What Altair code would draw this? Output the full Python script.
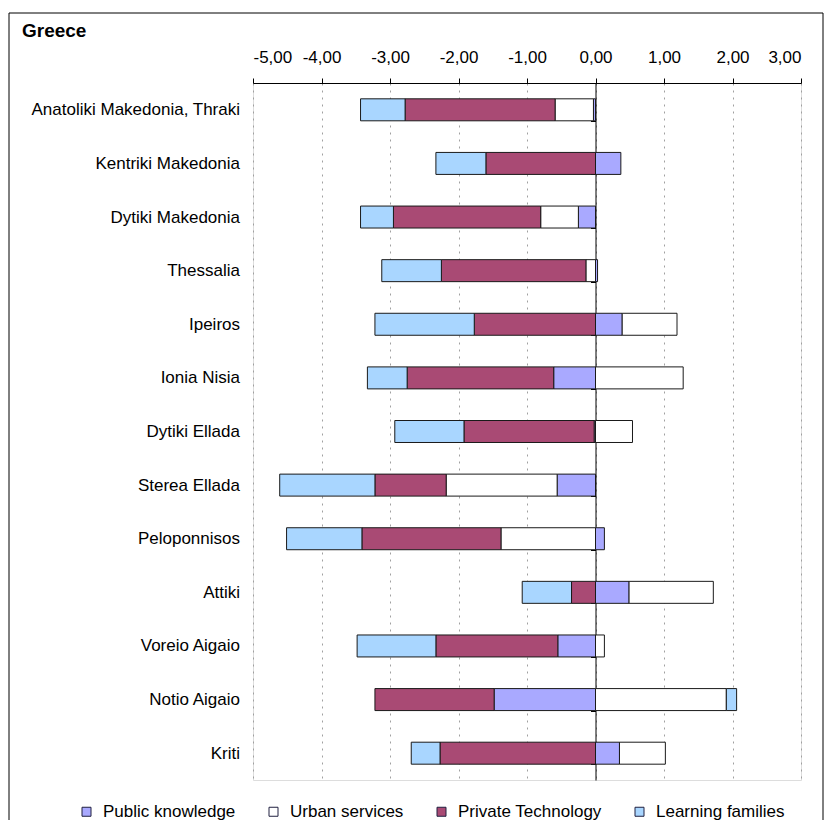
import altair as alt
import pandas as pd

# Regional scores by component, Greece (NUTS 2 regions)
regions = [
    "Anatoliki Makedonia, Thraki", "Kentriki Makedonia", "Dytiki Makedonia",
    "Thessalia", "Ipeiros", "Ionia Nisia", "Dytiki Ellada", "Sterea Ellada",
    "Peloponnisos", "Attiki", "Voreio Aigaio", "Notio Aigaio", "Kriti",
]
public_knowledge = [-0.03, 0.37, -0.25, 0.03, 0.39, -0.61, -0.02, -0.56, 0.13, 0.49, -0.55, -1.48, 0.35]
urban_services = [-0.56, 0.00, -0.55, -0.14, 0.80, 1.28, 0.54, -1.62, -1.38, 1.23, 0.13, 1.91, 0.67]
private_technology = [-2.19, -1.60, -2.15, -2.11, -1.77, -2.14, -1.90, -1.04, -2.03, -0.35, -1.78, -1.74, -2.27]
learning_families = [-0.65, -0.73, -0.48, -0.87, -1.45, -0.58, -1.01, -1.39, -1.10, -0.72, -1.15, 0.15, -0.42]

series = ["Public knowledge", "Urban services", "Private Technology", "Learning families"]
colors = ["#A9A9FF", "#FFFFFF", "#A94A74", "#A9D6FF"]
x_ticks = [-5, -4, -3, -2, -1, 0, 1, 2, 3]
chart_title = "Greece"

rows = []
for name, values in zip(series, [public_knowledge, urban_services, private_technology, learning_families]):
    for region, v in zip(regions, values):
        rows.append({"region": region, "series": name, "order": series.index(name), "value": v})
df = pd.DataFrame(rows)

FONT = "Liberation Sans"

bars = alt.Chart(df).transform_filter("datum.value != 0").mark_bar(
    stroke="#1a1a1a", strokeWidth=1
).encode(
    x=alt.X(
        "value:Q",
        stack="zero",
        scale=alt.Scale(domain=[-5, 3], nice=False, zero=False),
        axis=alt.Axis(
            orient="top", values=x_ticks, title=None,
            labelExpr="(datum.value < 0 ? '-' : '') + replace(format(abs(datum.value), '.2f'), '.', ',')",
            labelFont=FONT, labelFontSize=17, labelColor="black", labelPadding=12,
            domainColor="black", domainWidth=1, tickColor="black", tickSize=5,
            grid=True, gridColor="#a0a0a0", gridDash=[2, 5], gridWidth=1,
        ),
    ),
    y=alt.Y(
        "region:N",
        sort=regions,
        scale=alt.Scale(paddingInner=0.59, paddingOuter=0.295),
        axis=alt.Axis(
            orient="left", offset=-342.5, title=None, grid=False,
            domainColor="black", domainWidth=1, tickColor="black", tickSize=5,
            tickBand="extent", labelPadding=351, labelLimit=400,
            labelFont=FONT, labelFontSize=17, labelColor="black",
        ),
    ),
    color=alt.Color(
        "series:N",
        scale=alt.Scale(domain=series, range=colors),
        legend=alt.Legend(
            orient="none", legendX=-175, legendY=720, direction="horizontal",
            title=None, symbolType="square", symbolSize=81,
            symbolStrokeColor="#202040", symbolStrokeWidth=1, symbolOpacity=1,
            labelFont=FONT, labelFontSize=17, labelColor="black", labelLimit=300,
            labelOffset=8, columnPadding=29,
        ),
    ),
    order=alt.Order("order:Q", sort="ascending"),
)

# outer frame around the whole chart
frame = alt.Chart(alt.Data(values=[{}])).mark_rect(
    fill="transparent", stroke="black", strokeWidth=1
).encode(
    x=alt.value(-244), x2=alt.value(570), y=alt.value(-70), y2=alt.value(760)
)

# chart heading in the top-left corner of the frame
heading = alt.Chart(alt.Data(values=[{"t": chart_title}])).mark_text(
    align="left", baseline="alphabetic", font=FONT, fontSize=19,
    fontWeight="bold", color="black",
).encode(
    x=alt.value(-231), y=alt.value(-46), text="t:N"
)

chart = alt.layer(bars, frame, heading).properties(
    width=548,
    height=697,
    autosize=alt.AutoSizeParams(type="none"),
    padding={"left": 253, "top": 83, "right": 23, "bottom": 40},
).configure_view(
    stroke="#a0a0a0", strokeWidth=1
).configure(background="white")

chart.save("out.html", embed_options={"renderer": "svg", "actions": False})
